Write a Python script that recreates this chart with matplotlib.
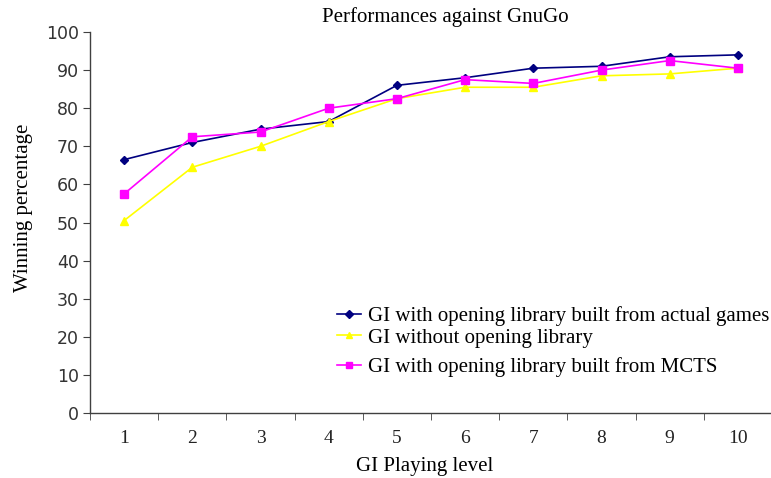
import matplotlib
matplotlib.use("Agg")
import matplotlib.pyplot as plt
from matplotlib.ticker import FixedLocator

levels = [1, 2, 3, 4, 5, 6, 7, 8, 9, 10]
actual_games = [66.5, 71, 74.5, 76.5, 86, 88, 90.5, 91, 93.5, 94]
no_library = [50.5, 64.5, 70, 76.5, 82.5, 85.5, 85.5, 88.5, 89, 90.5]
mcts = [57.5, 72.5, 73.75, 80, 82.5, 87.5, 86.5, 90, 92.5, 90.5]
labels = ["GI with opening library built from actual games",
          "GI without opening library",
          "GI with opening library built from MCTS"]

serif = "Liberation Serif"
fig = plt.figure(figsize=(7.71, 4.78), dpi=100)
ax = fig.add_axes([90/771, 1-413/478, 682/771, 381/478])

l1, = ax.plot(levels, actual_games, color="#000080", marker="D", markersize=4, lw=1.2, label=labels[0])
l2, = ax.plot(levels, no_library, color="#FFFF00", marker="^", markersize=6, lw=1.2, label=labels[1])
l3, = ax.plot(levels, mcts, color="#FF00FF", marker="s", markersize=5.5, lw=1.2, label=labels[2])

ax.set_xlim(0.5, 10.5)
ax.set_ylim(0, 100)
ax.set_yticks(range(0, 101, 10))
ax.set_xticks(levels)
ax.set_xticklabels([str(v) for v in levels], fontfamily=serif, fontsize=14)
ax.xaxis.set_minor_locator(FixedLocator([v + 0.5 for v in [0] + levels]))
ax.tick_params(axis="x", which="major", length=0, pad=12)
ax.tick_params(axis="x", which="minor", length=5, direction="out", color="#404040")
ax.tick_params(axis="y", length=5, direction="out", color="#404040", labelsize=12.5, pad=3)
for lab in ax.get_yticklabels():
    lab.set_fontfamily("DejaVu Sans")
    lab.set_color("#333333")
for lab in ax.get_xticklabels():
    lab.set_color("#222222")
for s in ["top", "right"]:
    ax.spines[s].set_visible(False)
for s in ["left", "bottom"]:
    ax.spines[s].set_color("#404040")
    ax.spines[s].set_linewidth(1.0)

ax.set_xlabel("GI Playing level", fontfamily=serif, fontsize=15)
ax.xaxis.set_label_coords((425-90)/682, (413-457)/381)
ax.set_ylabel("Winning percentage", fontfamily=serif, fontsize=15)
ax.yaxis.set_label_coords((33-90)/682, (413-208)/381)
fig.text(445/771, 1-17/478, "Performances against GnuGo", fontfamily=serif, fontsize=15,
         ha="center", va="center")

common = dict(loc="upper left", bbox_transform=fig.transFigure, frameon=False,
              prop={"family": serif, "size": 15}, handlelength=1.15,
              handletextpad=0.35, labelspacing=0.1, borderaxespad=0, borderpad=0)
leg1 = ax.legend(handles=[l1, l2], bbox_to_anchor=(337/771, 1-306/478), **common)
ax.add_artist(leg1)
leg2 = ax.legend(handles=[l3], bbox_to_anchor=(337/771, 1-357/478), **common)
for lg in (leg1, leg2):
    for h in lg.legend_handles:
        h.set_markersize(4)

fig.savefig("out.png", dpi=100)
